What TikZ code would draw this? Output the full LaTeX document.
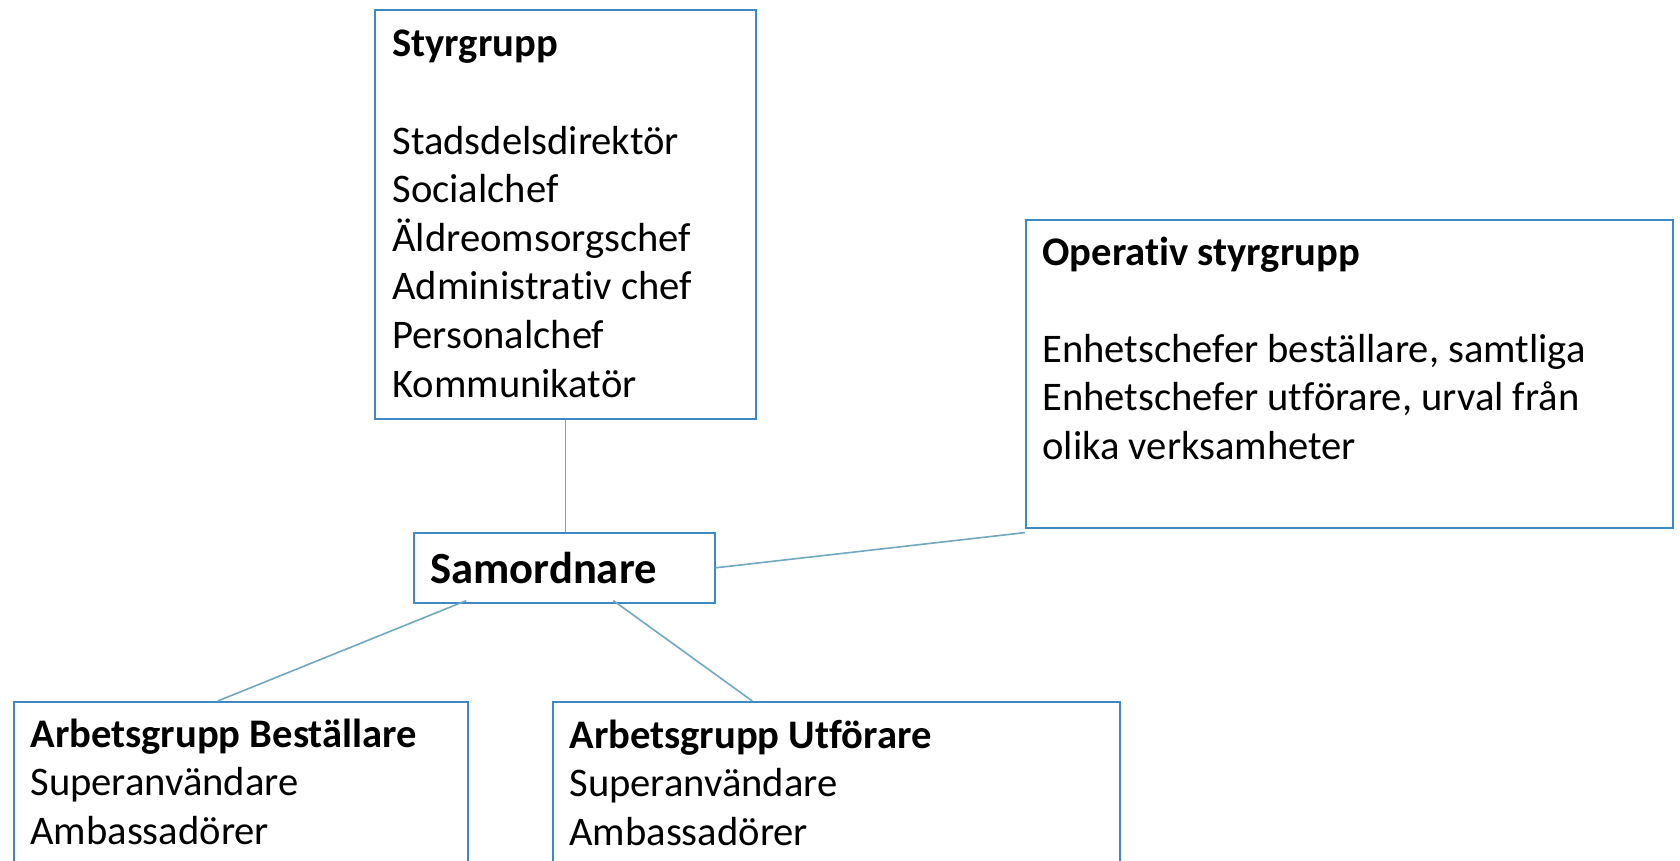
\documentclass[tikz,border=0pt]{standalone}
\usepackage{fontspec}
\setmainfont{Carlito}[Ligatures=NoCommon]
\usetikzlibrary{calc}
\definecolor{boxblue}{RGB}{62,136,196}
\definecolor{linkblue}{RGB}{112,168,192}
\begin{document}
\begin{tikzpicture}[x=0.5pt,y=-0.5pt,
  box/.style={draw=boxblue, line width=0.8pt, rectangle, inner sep=0pt, fill=white},
  link/.style={draw=linkblue, line width=0.8pt},
  txt/.style={anchor=base west, inner sep=0pt, font=\fontsize{20.3}{24.3}\selectfont}]
\clip (0,0) rectangle (1680,861);
\fill[white] (0,0) rectangle (1680,861);
% boxes
\node[box, anchor=north west, minimum width=190.5pt, minimum height=204.5pt] (sty) at (374,9) {};
\node[box, anchor=north west, minimum width=150.5pt, minimum height=35pt] (sam) at (413,532) {};
\node[box, anchor=north west, minimum width=323.5pt, minimum height=154pt] (op) at (1025,219) {};
\node[box, anchor=north west, minimum width=227pt, minimum height=100pt] (bes) at (13,701) {};
\node[box, anchor=north west, minimum width=283.5pt, minimum height=100pt] (utf) at (552,701) {};
% texts
\node[txt] (styT) at (392,57) {\begin{tabular}[t]{@{}l@{}}\textbf{Styrgrupp}\\ \\ Stadsdelsdirektör\\ Socialchef\\ Äldreomsorgschef\\ Administrativ chef\\ Personalchef\\ Kommunikatör\end{tabular}};
\node[txt, font=\fontsize{22.3}{27}\selectfont\bfseries] (samT) at (430,583) {Samordnare};
\node[txt] (opT) at (1042,265) {\begin{tabular}[t]{@{}l@{}}\textbf{Operativ styrgrupp}\\ \\ Enhetschefer beställare, samtliga\\ Enhetschefer utförare, urval från\\ olika verksamheter\end{tabular}};
\node[txt] (besT) at (30,747) {\begin{tabular}[t]{@{}l@{}}\textbf{Arbetsgrupp Beställare}\\ Superanvändare\\ Ambassadörer\end{tabular}};
\node[txt] (utfT) at (569,748) {\begin{tabular}[t]{@{}l@{}}\textbf{Arbetsgrupp Utförare}\\ Superanvändare\\ Ambassadörer\end{tabular}};
% connectors
\draw[link] (sty.south) -- (sty.south |- sam.north);
\draw[link] (sam.east) -- ($(op.south west)+(0,4)$);
\draw[link] ($(sam.south)+(-98,-3)$) -- ($(bes.north)+(-23,0)$);
\draw[link] ($(sam.south)+(49,-3)$) -- ($(utf.north)+(-84,0)$);
\end{tikzpicture}
\end{document}
